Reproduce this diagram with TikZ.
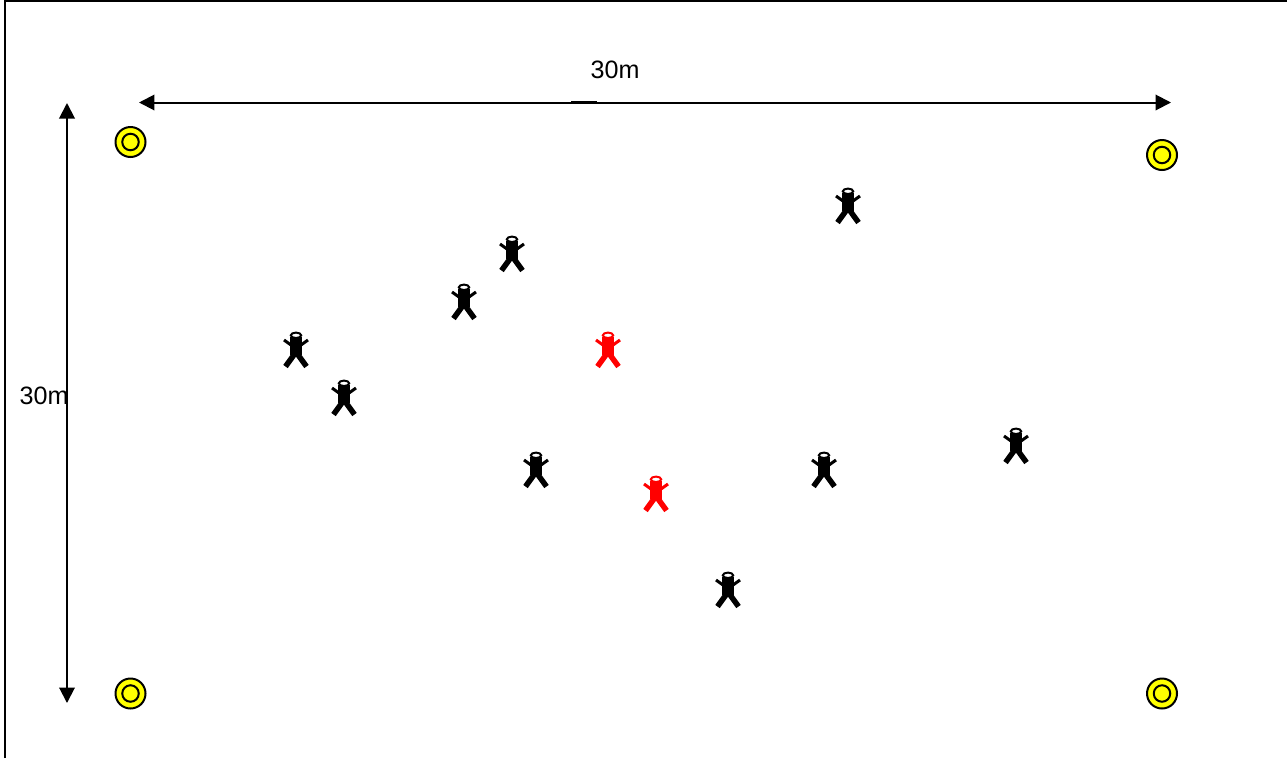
\documentclass[tikz,border=0pt]{standalone}
\usepackage{fontspec}
\setmainfont{Liberation Sans}
\usetikzlibrary{arrows.meta}
\definecolor{ringyellow}{RGB}{255,255,0}
\definecolor{personred}{RGB}{255,0,0}

\begin{document}
\begin{tikzpicture}[
  x=0.02cm,y=-0.02cm,
  font=\fontsize{14.3}{16}\selectfont,
  target/.style={draw,circle,fill=ringyellow,line width=0.04cm,inner sep=0pt,minimum size=0.6cm},
  ring/.style={draw,circle,line width=0.04cm,inner sep=0pt,minimum size=0.33cm},
  dim/.style={{Triangle[length=0.31cm,width=0.31cm]}-{Triangle[length=0.31cm,width=0.31cm]},line width=0.04cm},
  label/.style={inner sep=0pt},
  pics/person/.style={code={
    \fill[#1] (-6.2,5.3) rectangle (6.2,23);
    \draw[#1,line width=0.06cm] (-12,8) -- (-5,13);
    \draw[#1,line width=0.06cm] (12,8) -- (5,13);
    \draw[#1,line width=0.11cm] (0,20) -- (-10.5,34.5);
    \draw[#1,line width=0.11cm] (0,20) -- (10.5,34.5);
    \draw[#1,fill=white,line width=0.04cm] (0,3.3) ellipse (5.2 and 2.7);
  }}
]
\useasboundingbox (0,0) rectangle (1287,758);
\coordinate (cornerb) at (5,758);
\coordinate (cornerl) at (5,0.7);
\coordinate (cornerr) at (1287,0.7);
\draw[line width=0.04cm] (cornerb) -- (cornerl) -- (cornerr);

\node[target] (nw) at (130.5,142) {};
\node[target] (ne) at (1162,155) {};
\node[target] (sw) at (130.5,693.5) {};
\node[target] (se) at (1162,693.5) {};
\foreach \t in {nw,ne,sw,se}
  \node[ring] (\t in) at (\t) {};

\coordinate (topl) at (139,102.5);
\coordinate (topr) at (1171,102.5);
\coordinate (sideu) at (67,103);
\coordinate (sided) at (67,703);
\draw[dim] (topl) -- (topr);
\draw[dim] (sideu) -- (sided);
\coordinate (markl) at (571,102.2);
\coordinate (markr) at (597,102.2);
\draw[line width=0.04cm] (markl) -- (markr);
\node[label] (widthlabel) at (615,69.5) {30m};
\node[label] (heightlabel) at (44,396) {30m};

\foreach \px/\py in {848/188,512/236,464/284,296/332,344/380,536/452,824/452,1016/428,728/572}
  \pic at (\px,\py) {person=black};
\foreach \px/\py in {608/332,656/476}
  \pic at (\px,\py) {person=personred};
\end{tikzpicture}
\end{document}
